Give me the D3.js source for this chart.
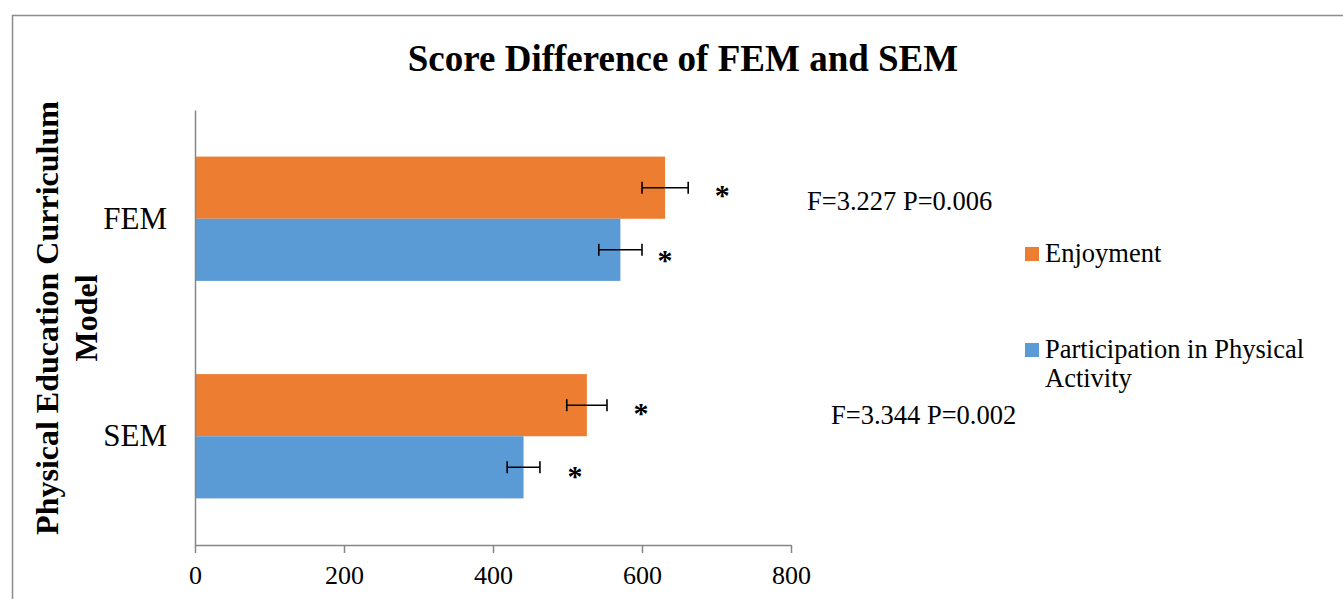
<!DOCTYPE html>
<html>
<head>
<meta charset="utf-8">
<script src="https://cdn.jsdelivr.net/npm/d3@7"></script>
<style>
  html, body { margin: 0; padding: 0; background: #fff; }
  svg { display: block; }
  text { font-family: "Liberation Serif", "Times New Roman", serif; fill: #000; }
</style>
</head>
<body>
<div id="chart"></div>
<script>
/* =========================================
   Score Difference of FEM and SEM
   Clustered horizontal bars with error bars
   ========================================= */

// ---- Data ----
const categories = ['FEM', 'SEM'];
const seriesNames = ['Enjoyment', 'Participation in Physical Activity'];
const enjoyment = [631, 526];
const participation = [571, 441];
const enjoymentErr = [31, 27];
const participationErr = [29, 22];
const statLabels = ['F=3.227 P=0.006', 'F=3.344 P=0.002'];
const xTicks = [0, 200, 400, 600, 800];

const W = 1343, H = 599;
const colors = ['#ED7D31', '#5B9BD5'];

const svg = d3.select('#chart').append('svg')
  .attr('width', W).attr('height', H);

svg.append('rect').attr('width', W).attr('height', H).attr('fill', '#fff');

// chart frame (cut off at right / bottom edge)
svg.append('path')
  .attr('d', `M12.5,${H} V15.5 H${W}`)
  .attr('fill', 'none')
  .attr('stroke', '#8c8c8c')
  .attr('stroke-width', 1.5);

// ---- Scales ----
const plot = { left: 195, right: 791, top: 110, bottom: 545 };

const x = d3.scaleLinear()
  .domain([0, 800])
  .range([plot.left, plot.right]);

const y = d3.scaleBand()
  .domain(categories)
  .range([plot.top, plot.bottom]);

// gap width 150% -> band = 3.5 bar heights
const barH = y.bandwidth() / 3.5;
const series = [
  { name: seriesNames[0], values: enjoyment, err: enjoymentErr, color: colors[0], off: -barH },
  { name: seriesNames[1], values: participation, err: participationErr, color: colors[1], off: 0 }
];

// ---- Title ----
svg.append('text')
  .attr('x', 683).attr('y', 71)
  .attr('text-anchor', 'middle')
  .attr('font-size', '37px')
  .attr('font-weight', '700')
  .text('Score Difference of FEM and SEM');

// ---- Bars ----
const center = c => y(c) + y.bandwidth() / 2;

series.forEach(s => {
  svg.append('g').selectAll('rect')
    .data(categories).join('rect')
    .attr('x', x(0))
    .attr('y', (c) => center(c) + s.off)
    .attr('width', (c, i) => x(s.values[i]) - x(0))
    .attr('height', barH)
    .attr('fill', s.color);
});

// ---- Error bars ----
const cap = 6;
series.forEach(s => {
  const eg = svg.append('g')
    .attr('stroke', '#000').attr('stroke-width', 1.6);
  categories.forEach((c, i) => {
    const cy = center(c) + s.off + barH / 2;
    const lo = x(s.values[i] - s.err[i]);
    const hi = x(s.values[i] + s.err[i]);
    eg.append('line').attr('x1', lo).attr('x2', hi).attr('y1', cy).attr('y2', cy);
    eg.append('line').attr('x1', lo).attr('x2', lo).attr('y1', cy - cap).attr('y2', cy + cap);
    eg.append('line').attr('x1', hi).attr('x2', hi).attr('y1', cy - cap).attr('y2', cy + cap);
  });
});

// ---- Significance stars ----
// gap (px) from end of the error bar, per series / category
const starDx = [[34, 34], [23, 35]];
const starDy = [[17, 18], [20, 19]];
series.forEach((s, si) => {
  categories.forEach((c, i) => {
    svg.append('text')
      .attr('x', x(s.values[i] + s.err[i]) + starDx[si][i])
      .attr('y', center(c) + s.off + barH / 2 + starDy[si][i])
      .attr('text-anchor', 'middle')
      .attr('font-size', '30px')
      .attr('font-weight', '700')
      .text('*');
  });
});

// ---- Stat annotations ----
const statPos = [{ x: 807, dy: -9 }, { x: 831, dy: -12 }];
categories.forEach((c, i) => {
  svg.append('text')
    .attr('x', statPos[i].x)
    .attr('y', center(c) + statPos[i].dy)
    .attr('font-size', '26.5px')
    .text(statLabels[i]);
});

// ---- X Axis ----
svg.append('g')
  .attr('transform', `translate(0,${plot.bottom})`)
  .call(d3.axisBottom(x).tickValues(xTicks).tickSize(8).tickSizeOuter(0).tickPadding(13).tickFormat(d3.format('d')))
  .call(g => g.select('.domain').attr('stroke', '#868686').attr('stroke-width', 1.5))
  .call(g => g.selectAll('.tick line').attr('stroke', '#868686').attr('stroke-width', 1.5))
  .call(g => g.selectAll('.tick text')
    .attr('font-family', '"Liberation Serif", "Times New Roman", serif')
    .attr('font-size', '26px')
    .attr('fill', '#000'));

// ---- Y Axis ----
svg.append('g')
  .attr('transform', `translate(${plot.left},0)`)
  .call(d3.axisLeft(y).tickSize(0).tickSizeOuter(0).tickPadding(28))
  .call(g => g.select('.domain').attr('stroke', '#868686').attr('stroke-width', 1.5))
  .call(g => g.selectAll('.tick text')
    .attr('font-family', '"Liberation Serif", "Times New Roman", serif')
    .attr('font-size', '31px')
    .attr('fill', '#000'));

// ---- Y Axis title ----
const yTitle = svg.append('text')
  .attr('transform', 'translate(58,318) rotate(-90)')
  .attr('text-anchor', 'middle')
  .attr('font-size', '32px')
  .attr('font-weight', '700');
yTitle.append('tspan').attr('x', 0).attr('y', 0).text('Physical Education Curriculum');
yTitle.append('tspan').attr('x', 0).attr('dy', 38.5).text('Model');

// ---- Legend ----
const legend = svg.append('g').attr('transform', 'translate(1025,0)');
const legendY = [247, 343];
series.forEach((s, i) => {
  legend.append('rect')
    .attr('x', 0).attr('y', legendY[i])
    .attr('width', 14).attr('height', 14)
    .attr('fill', s.color);
});
legend.append('text')
  .attr('x', 20).attr('y', 262)
  .attr('font-size', '26.5px')
  .text(seriesNames[0]);
const lt = legend.append('text')
  .attr('x', 20).attr('y', 358)
  .attr('font-size', '26.5px');
lt.append('tspan').attr('x', 20).text('Participation in Physical');
lt.append('tspan').attr('x', 20).attr('dy', 28.5).text('Activity');
</script>
</body>
</html>
